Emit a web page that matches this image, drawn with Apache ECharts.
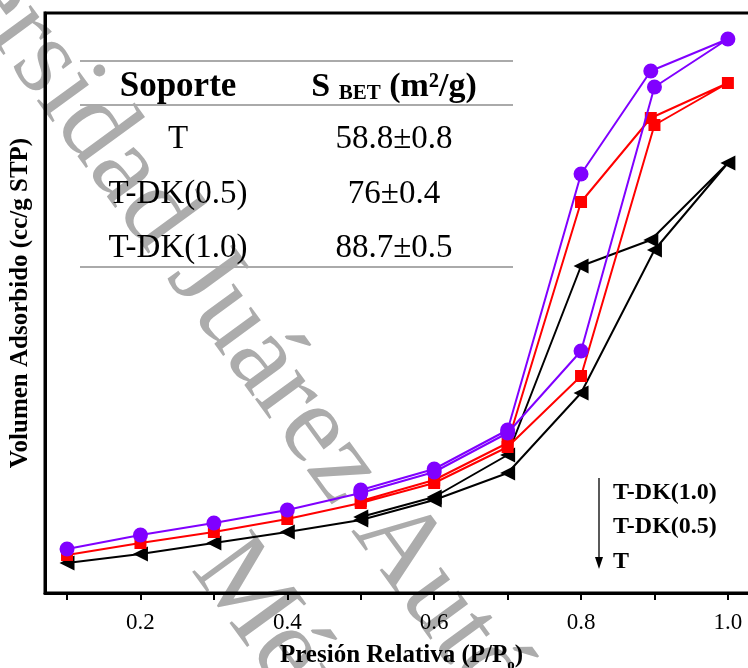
<!DOCTYPE html>
<html>
<head>
<meta charset="utf-8">
<script src="https://cdn.jsdelivr.net/npm/echarts@6/dist/echarts.min.js"></script>
<style>
  html, body { margin: 0; padding: 0; background: #fff; }
  #chart-container { width: 748px; height: 668px; }
</style>
</head>
<body>
<div id="chart-container"></div>
<script>
// relative pressure (P/Po), adsorption then desorption branch
var pAds = [0.1, 0.2, 0.3, 0.4, 0.5, 0.6, 0.7, 0.8, 0.9, 1.0];
var pDes = [0.895, 0.8, 0.7, 0.6, 0.5];

// adsorbed volume (arbitrary units, no y labels in the original)
var dk10Ads = [22, 29, 35, 41.5, 50, 60.5, 80, 121, 253, 277];
var dk10Des = [261, 209.5, 81.5, 62, 51.5];
var dk05Ads = [19, 25, 30.5, 37, 45, 55, 73, 108.5, 234, 255];
var dk05Des = [237.5, 195.5, 75, 56.5, 46];
var tAds = [15, 19.5, 25, 30.5, 36.5, 46.5, 60, 100, 171.5, 215];
var tDes = [176.5, 163.5, 69, 48, 38];

var tickVals = [0.1, 0.2, 0.3, 0.4, 0.5, 0.6, 0.7, 0.8, 0.9, 1.0];
var labelVals = [0.2, 0.4, 0.6, 0.8, 1.0];

// table in the upper left
var tableSamples = ["T", "T-DK(0.5)", "T-DK(1.0)"];
var tableSbet = ["58.8±0.8", "76±0.4", "88.7±0.5"];
var legendNames = ["T-DK(1.0)", "T-DK(0.5)", "T"];

function pairs(ads, des) {
  var out = [];
  for (var i = 0; i < pAds.length; i++) out.push([pAds[i], ads[i]]);
  for (var j = 0; j < pDes.length; j++) out.push([pDes[j], des[j]]);
  return out;
}

var dom = document.getElementById("chart-container");
var myChart = echarts.init(dom, null, { renderer: "canvas" });

var serif = "Liberation Serif";
var wmAngle = -0.94;
var wmFont = "112px 'Liberation Serif'";
var wmColor = "#acacac";
var graphics = [
  // watermark
  {
    type: "text", x: -150, y: -205, rotation: wmAngle, z: -10, silent: true,
    style: { text: "Universidad Juárez Autónoma de Tabasco", font: wmFont,
      fill: wmColor, textVerticalAlign: "middle" }
  },
  {
    type: "text", x: 214, y: 552, rotation: wmAngle, z: -10, silent: true,
    style: { text: "México", font: wmFont, fill: wmColor, textVerticalAlign: "middle" }
  },
  // table rules
  { type: "line", shape: { x1: 80, y1: 61, x2: 513, y2: 61 }, style: { stroke: "#aaa", lineWidth: 2 } },
  { type: "line", shape: { x1: 80, y1: 105, x2: 513, y2: 105 }, style: { stroke: "#aaa", lineWidth: 2 } },
  { type: "line", shape: { x1: 80, y1: 267, x2: 513, y2: 267 }, style: { stroke: "#aaa", lineWidth: 2 } },
  {
    type: "text", x: 178, y: 87, z: 100,
    style: { text: "Soporte", font: "bold 35px '" + serif + "'", fill: "#000",
      textAlign: "center", textVerticalAlign: "middle" }
  },
  {
    type: "text", x: 394, y: 87, z: 100,
    style: {
      text: "{a|S }{b|BET}{a| (m²/g)}",
      textAlign: "center", textVerticalAlign: "middle",
      rich: {
        a: { font: "bold 34px '" + serif + "'", fill: "#000" },
        b: { font: "bold 21px '" + serif + "'", fill: "#000", padding: [14, 0, 0, 0] }
      }
    }
  },
  // legend arrow
  { type: "line", shape: { x1: 599, y1: 478, x2: 599, y2: 562 }, style: { stroke: "#000", lineWidth: 1.3 } },
  { type: "polygon", shape: { points: [[595, 557], [603, 557], [599, 569]] }, style: { fill: "#000" } }
];
var rowY = [139, 194, 248];
for (var i = 0; i < tableSamples.length; i++) {
  graphics.push({
    type: "text", x: 178, y: rowY[i], z: 100,
    style: { text: tableSamples[i], font: "33px '" + serif + "'", fill: "#000",
      textAlign: "center", textVerticalAlign: "middle" }
  });
  graphics.push({
    type: "text", x: 394, y: rowY[i], z: 100,
    style: { text: tableSbet[i], font: "33px '" + serif + "'", fill: "#000",
      textAlign: "center", textVerticalAlign: "middle" }
  });
}
var legY = [493, 527, 562];
for (var k = 0; k < legendNames.length; k++) {
  graphics.push({
    type: "text", x: 613, y: legY[k], z: 100,
    style: { text: legendNames[k], font: "bold 24px '" + serif + "'", fill: "#000",
      textAlign: "left", textVerticalAlign: "middle" }
  });
}

var option = {
  backgroundColor: "#fff",
  animation: false,
  grid: {
    left: 45, top: 13, width: 713, bottom: 75,
    outerBoundsMode: "none",
    show: true, borderColor: "#000", borderWidth: 3, containLabel: false
  },
  xAxis: {
    type: "value",
    min: 0.07, max: 1.041,
    name: "Presión Relativa (P/P{s|o})",
    nameLocation: "middle",
    nameGap: 45,
    nameTextStyle: {
      fontFamily: serif, fontWeight: "bold", fontSize: 25, color: "#000",
      rich: { s: { fontFamily: serif, fontWeight: "bold", fontSize: 15, color: "#000", padding: [20, 0, 0, 0] } }
    },
    axisLine: { lineStyle: { color: "#000", width: 3 } },
    axisTick: { show: true, customValues: tickVals, length: 7, lineStyle: { color: "#000", width: 2 } },
    axisLabel: {
      customValues: labelVals, margin: 18,
      fontFamily: serif, fontSize: 23, color: "#000",
      formatter: function (v) { return v.toFixed(1); }
    },
    splitLine: { show: false }
  },
  yAxis: {
    type: "value",
    min: 0, max: 290,
    name: "Volumen Adsorbido (cc/g STP)",
    nameLocation: "middle",
    nameGap: 12,
    nameTextStyle: { fontFamily: serif, fontWeight: "bold", fontSize: 25, color: "#000" },
    axisLine: { show: true, lineStyle: { color: "#000", width: 3 } },
    axisTick: { show: false },
    axisLabel: { show: false },
    splitLine: { show: false }
  },
  series: [
    {
      name: "T", type: "line", data: pairs(tAds, tDes),
      symbol: "triangle", symbolSize: 15, symbolRotate: 90,
      lineStyle: { color: "#000", width: 2 }, itemStyle: { color: "#000" }, z: 3
    },
    {
      name: "T-DK(0.5)", type: "line", data: pairs(dk05Ads, dk05Des),
      symbol: "rect", symbolSize: 12,
      lineStyle: { color: "#ff0000", width: 2 }, itemStyle: { color: "#ff0000" }, z: 4
    },
    {
      name: "T-DK(1.0)", type: "line", data: pairs(dk10Ads, dk10Des),
      symbol: "circle", symbolSize: 15,
      lineStyle: { color: "#8000ff", width: 2 }, itemStyle: { color: "#8000ff" }, z: 5
    }
  ],
  graphic: graphics
};

myChart.setOption(option);
</script>
</body>
</html>
